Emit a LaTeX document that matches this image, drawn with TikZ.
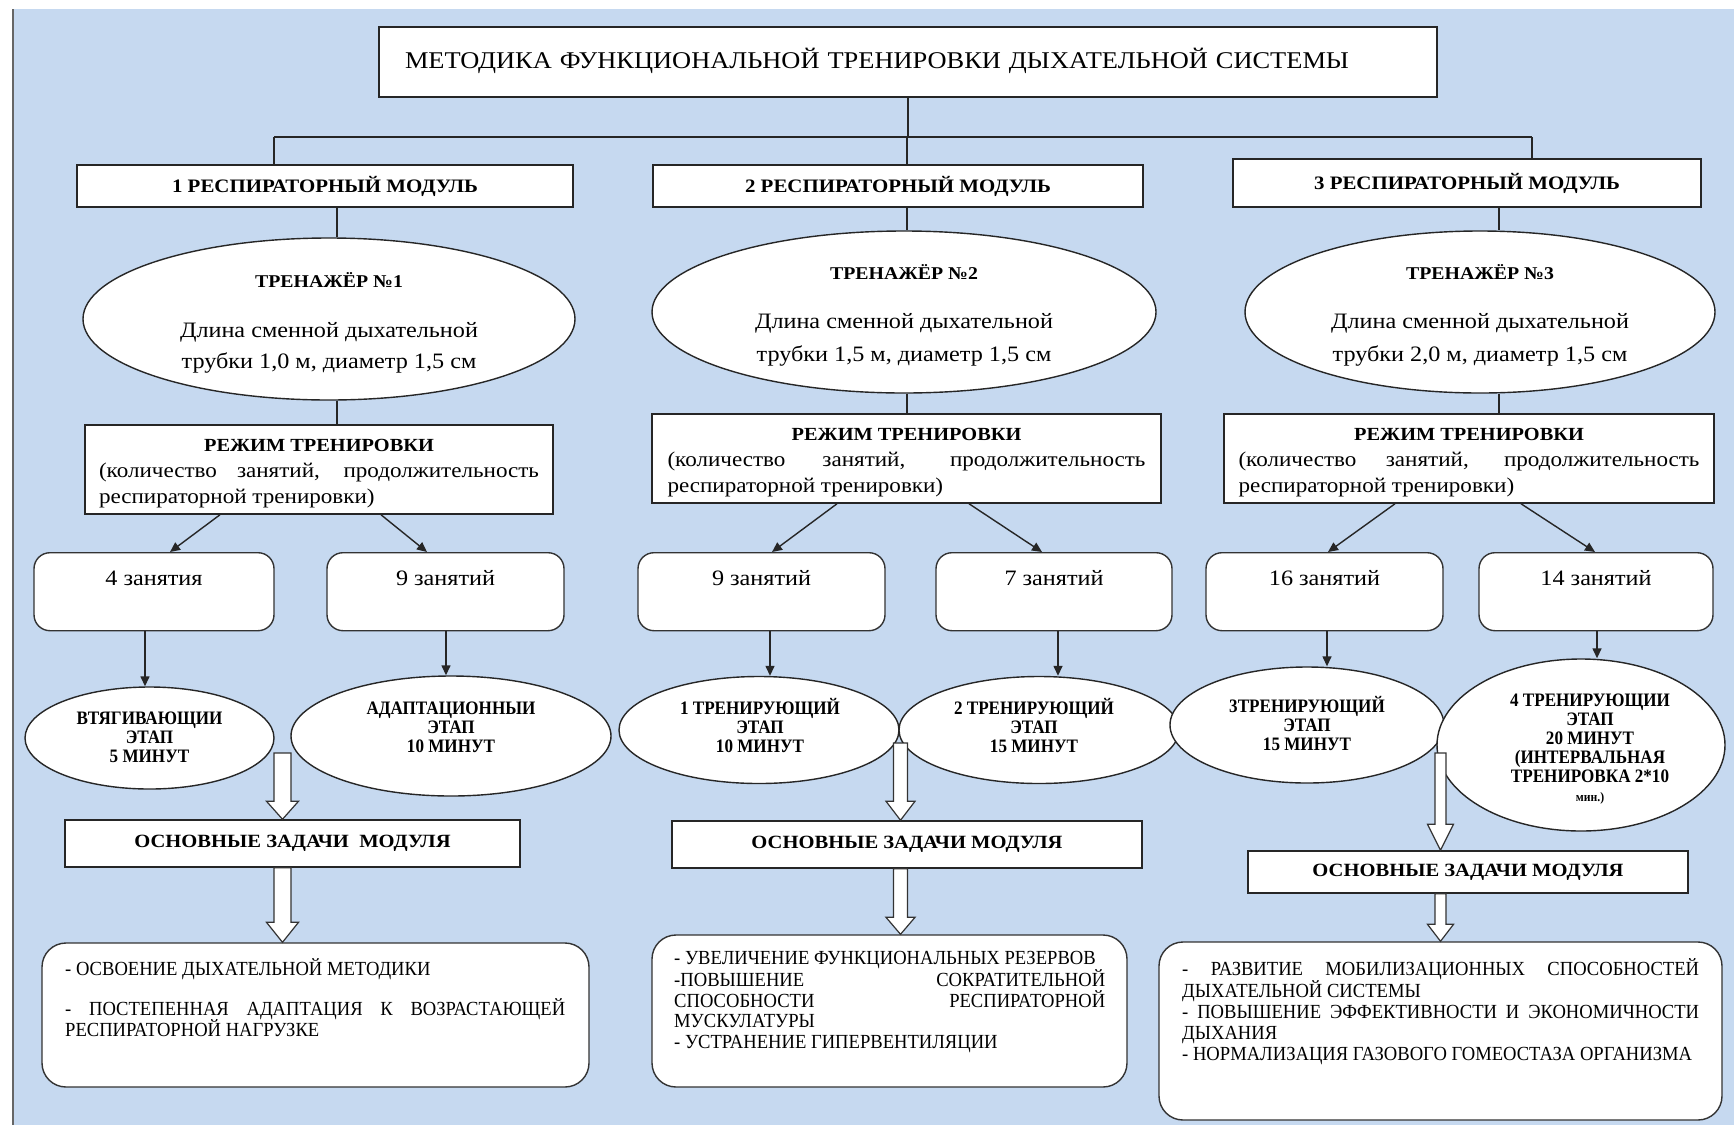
\documentclass[tikz,border=0pt]{standalone}
\usepackage{fontspec}
\setmainfont[FakeStretch=1.1]{Liberation Serif}
\newfontfamily\condfont[FakeStretch=0.9]{Liberation Serif}
\newfontfamily\listfont[FakeStretch=0.93]{Liberation Serif}
\usetikzlibrary{shapes.geometric,arrows.meta,calc}
\definecolor{bgblue}{RGB}{198,217,240}
\newcommand{\setfs}[2]{\fontsize{#1}{#2}\selectfont}
% hollow block arrow: #1 start (top), #2 tip, #3 shaft half width, #4 head half width, #5 head length
\newcommand{\blockarrow}[5]{%
  \draw[hollow] let \p1=(#1), \p2=(#2) in
    (\x2-#3,\y1) -- (\x2+#3,\y1) -- (\x2+#3,\y2+#5) -- (\x2+#4,\y2+#5) --
    (\x2,\y2) -- (\x2-#4,\y2+#5) -- (\x2-#3,\y2+#5) -- cycle;}
\begin{document}
\begin{tikzpicture}[x=1pt,y=-1pt,
  box/.style={draw=black!85, line width=1.5pt, fill=white, rectangle, inner sep=0pt},
  oval/.style={draw=black!85, line width=1.4pt, fill=white, ellipse, inner sep=0pt, align=center},
  rbox/.style={draw=black!80, line width=1.4pt, fill=white, rounded corners=16pt, inner sep=0pt},
  bigrbox/.style={draw=black!80, line width=1.4pt, fill=white, rounded corners=24pt, inner sep=0pt},
  conn/.style={draw=black!85, line width=1.4pt},
  arr/.style={conn, -{Triangle[length=10pt,width=9pt]}},
  hollow/.style={draw=black!80, line width=1.2pt, fill=white, line join=miter},
  modfont/.style={font=\bfseries\setfs{19}{21}},
  stagetxt/.style={inner sep=0pt, align=center, font=\condfont\bfseries\setfs{19}{19}},
  txt/.style={inner sep=0pt, align=left, anchor=north west, font=\listfont\setfs{20}{21.5}}
]
\useasboundingbox (0,0) rectangle (1734,1125);
\fill[white] (0,0) rectangle (1734,1125);
\fill[bgblue] (14,9) rectangle (1734,1125);
\draw[line width=2pt, black!60] (13,9) -- (13,1125);

% title
\node[box, minimum width=1058pt, minimum height=70pt, text width=1006pt, align=left, text depth=8pt,
      font=\setfs{24}{28}] (title) at (908,62) {МЕТОДИКА ФУНКЦИОНАЛЬНОЙ ТРЕНИРОВКИ ДЫХАТЕЛЬНОЙ СИСТЕМЫ};

% modules
\node[box, modfont, minimum width=496pt, minimum height=42pt] (m1) at (325,186) {1 РЕСПИРАТОРНЫЙ МОДУЛЬ};
\node[box, modfont, minimum width=490pt, minimum height=42pt] (m2) at (898,186) {2 РЕСПИРАТОРНЫЙ МОДУЛЬ};
\node[box, modfont, minimum width=468pt, minimum height=48pt] (m3) at (1467,183) {3 РЕСПИРАТОРНЫЙ МОДУЛЬ};

% trainers
\node[oval, minimum width=492pt, minimum height=162pt, font=\setfs{22}{31}] (t1) at (329,319)
  {\textbf{\setfs{18}{20}\rule{0pt}{22pt}ТРЕНАЖЁР №1}\\[19pt] Длина сменной дыхательной\\трубки 1,0 м, диаметр 1,5 см};
\node[oval, minimum width=504pt, minimum height=162pt, font=\setfs{22}{33}] (t2) at (904,312)
  {\textbf{\setfs{18}{20}\rule{0pt}{22pt}ТРЕНАЖЁР №2}\\[16pt] Длина сменной дыхательной\\трубки 1,5 м, диаметр 1,5 см};
\node[oval, minimum width=470pt, minimum height=162pt, font=\setfs{22}{33}] (t3) at (1480,312)
  {\textbf{\setfs{18}{20}\rule{0pt}{22pt}ТРЕНАЖЁР №3}\\[16pt] Длина сменной дыхательной\\трубки 2,0 м, диаметр 1,5 см};

% regimes
\tikzset{regime/.style={box, minimum height=89pt, align=center, font=\setfs{21}{26}}}
\node[regime, minimum width=468pt] (r1) at (319,469.5)
  {\textbf{\setfs{18.5}{26}\rule{0pt}{20.5pt}РЕЖИМ ТРЕНИРОВКИ}\\\makebox[440pt][s]{(количество занятий, продолжительность}\\\makebox[440pt][l]{респираторной тренировки)}};
\node[regime, minimum width=509pt] (r2) at (906.5,458.5)
  {\textbf{\setfs{18.5}{26}\rule{0pt}{19.5pt}РЕЖИМ ТРЕНИРОВКИ}\\\makebox[478pt][s]{(количество занятий, продолжительность}\\\makebox[478pt][l]{респираторной тренировки)}};
\node[regime, minimum width=490pt] (r3) at (1469,458.5)
  {\textbf{\setfs{18.5}{26}\rule{0pt}{19.5pt}РЕЖИМ ТРЕНИРОВКИ}\\\makebox[461pt][s]{(количество занятий, продолжительность}\\\makebox[461pt][l]{респираторной тренировки)}};

% sessions
\tikzset{sess/.style={rbox, text height=33pt, text depth=45pt, anchor=north, font=\setfs{22}{24}}}
\node[sess, minimum width=240pt] (b1) at (154,552) {4 занятия};
\node[sess, minimum width=237pt] (b2) at (445.5,552) {9 занятий};
\node[sess, minimum width=247pt] (b3) at (761.5,552) {9 занятий};
\node[sess, minimum width=236pt] (b4) at (1054,552) {7 занятий};
\node[sess, minimum width=237pt] (b5) at (1324.5,552) {16 занятий};
\node[sess, minimum width=234pt] (b6) at (1596,552) {14 занятий};

% stages
\node[oval, minimum width=249pt, minimum height=102pt] (e1) at (149.5,738) {};
\node[oval, minimum width=320pt, minimum height=120pt] (e2) at (451,736) {};
\node[oval, minimum width=280pt, minimum height=107pt] (e3) at (759,730) {};
\node[oval, minimum width=280pt, minimum height=107pt] (e4) at (1039,730) {};
\node[oval, minimum width=274pt, minimum height=116pt] (e5) at (1307,725) {};
\node[oval, minimum width=288pt, minimum height=172pt] (e6) at (1581,745) {};
\node[stagetxt] (e1t) at (149.5,737) {ВТЯГИВАЮЩИИ\\ЭТАП\\5 МИНУТ};
\node[stagetxt] (e2t) at (451,727) {АДАПТАЦИОННЫИ\\ЭТАП\\10 МИНУТ};
\node[stagetxt] (e3t) at (760,725) {1 ТРЕНИРУЮЩИЙ\\ЭТАП\\10 МИНУТ};
\node[stagetxt] (e4t) at (1034,725) {2 ТРЕНИРУЮЩИЙ\\ЭТАП\\15 МИНУТ};
\node[stagetxt] (e5t) at (1307,723) {3ТРЕНИРУЮЩИЙ\\ЭТАП\\15 МИНУТ};
\node[stagetxt] (e6t) at (1590,749)
  {4 ТРЕНИРУЮЩИИ\\ЭТАП\\20 МИНУТ\\(ИНТЕРВАЛЬНАЯ\\ТРЕНИРОВКА 2*10\\{\setfs{13}{19}мин.)}};

% main tasks
\tikzset{task/.style={box, font=\bfseries\setfs{18.7}{22}}}
\node[task, minimum width=455pt, minimum height=47pt] (o1) at (292.5,843.5) {ОСНОВНЫЕ ЗАДАЧИ \ МОДУЛЯ};
\node[task, minimum width=470pt, minimum height=47pt] (o2) at (907,844.5) {ОСНОВНЫЕ ЗАДАЧИ МОДУЛЯ};
\node[task, minimum width=440pt, minimum height=42pt] (o3) at (1468,872) {ОСНОВНЫЕ ЗАДАЧИ МОДУЛЯ};

% task lists
\node[bigrbox, minimum width=547pt, minimum height=144pt] (d1) at (315.5,1015) {};
\node[bigrbox, minimum width=475pt, minimum height=152pt] (d2) at (889.5,1011) {};
\node[bigrbox, minimum width=563pt, minimum height=178pt] (d3) at (1440.5,1031) {};

\node[txt] (d1t) at (65,958) {- ОСВОЕНИЕ ДЫХАТЕЛЬНОЙ МЕТОДИКИ\\[18.5pt]
  \makebox[500pt][s]{- ПОСТЕПЕННАЯ АДАПТАЦИЯ К ВОЗРАСТАЮЩЕЙ}\\
  РЕСПИРАТОРНОЙ НАГРУЗКЕ};
\node[txt, font=\listfont\setfs{20}{20.5}] (d2t) at (674,951) {\makebox[431pt][l]{- УВЕЛИЧЕНИЕ ФУНКЦИОНАЛЬНЫХ РЕЗЕРВОВ}\\
  \makebox[431pt][s]{-ПОВЫШЕНИЕ СОКРАТИТЕЛЬНОЙ}\\
  \makebox[431pt][s]{СПОСОБНОСТИ РЕСПИРАТОРНОЙ}\\
  МУСКУЛАТУРЫ\\
  - УСТРАНЕНИЕ ГИПЕРВЕНТИЛЯЦИИ};
\node[txt, font=\listfont\setfs{20}{21}] (d3t) at (1182,958) {\makebox[517pt][s]{- РАЗВИТИЕ МОБИЛИЗАЦИОННЫХ СПОСОБНОСТЕЙ}\\
  ДЫХАТЕЛЬНОЙ СИСТЕМЫ\\
  \makebox[517pt][s]{- ПОВЫШЕНИЕ ЭФФЕКТИВНОСТИ И ЭКОНОМИЧНОСТИ}\\
  ДЫХАНИЯ\\
  - НОРМАЛИЗАЦИЯ ГАЗОВОГО ГОМЕОСТАЗА ОРГАНИЗМА};

% --- connectors ---
\coordinate (busL) at (274,137);
\coordinate (busM) at (907,137);
\coordinate (busR) at (1532,137);
\draw[conn] (title.south) -- (title.south |- busM);
\draw[conn] (busL) -- (busR);
\draw[conn] (busL) -- (busL |- m1.north);
\draw[conn] (busM) -- (busM |- m2.north);
\draw[conn] (busR) -- (busR |- m3.north);

\draw[conn] ([xshift=12pt]m1.south) -- ([xshift=12pt]m1.south |- t1.north);
\draw[conn] ([xshift=9pt]m2.south) -- ([xshift=9pt]m2.south |- t2.north);
\draw[conn] ([xshift=32pt]m3.south) -- ([xshift=32pt]m3.south |- t3.north);

\draw[conn] ([xshift=8pt]t1.south) -- ([xshift=8pt]t1.south |- r1.north);
\draw[conn] ([xshift=3pt]t2.south) -- ([xshift=3pt]t2.south |- r2.north);
\draw[conn] ([xshift=19pt]t3.south) -- ([xshift=19pt]t3.south |- r3.north);

\draw[arr] ([xshift=-99pt]r1.south) -- ([xshift=16pt]b1.north);
\draw[arr] ([xshift=62pt]r1.south) -- ([xshift=-18.5pt]b2.north);
\draw[arr] ([xshift=-69.5pt]r2.south) -- ([xshift=10.5pt]b3.north);
\draw[arr] ([xshift=62.5pt]r2.south) -- ([xshift=-12pt]b4.north);
\draw[arr] ([xshift=-74pt]r3.south) -- ([xshift=3.5pt]b5.north);
\draw[arr] ([xshift=52pt]r3.south) -- ([xshift=-1pt]b6.north);

\draw[arr] ([xshift=-9pt]b1.south) -- ([xshift=-4.5pt]e1.north);
\draw[arr] ([xshift=0.5pt]b2.south) -- ([xshift=-5pt]e2.north);
\draw[arr] ([xshift=8.5pt]b3.south) -- ([xshift=11pt]e3.north);
\draw[arr] ([xshift=4pt]b4.south) -- ([xshift=19pt]e4.north);
\draw[arr] ([xshift=2.5pt]b5.south) -- ([xshift=20pt]e5.north);
\draw[arr] ([xshift=1pt]b6.south) -- ([xshift=16pt]e6.north);

% hollow arrows
\coordinate (a1s) at (282.5,753);
\coordinate (a3s) at (900.5,743);
\coordinate (a5s) at (1440.5,753);
\blockarrow{a1s}{[xshift=-10pt]o1.north}{8.5pt}{16pt}{18pt}
\blockarrow{[xshift=-10pt]o1.south}{[xshift=-33pt]d1.north}{8.5pt}{16pt}{20pt}
\blockarrow{a3s}{[xshift=-6.5pt]o2.north}{7pt}{14.5pt}{19pt}
\blockarrow{[xshift=-6.5pt]o2.south}{[xshift=11pt]d2.north}{7pt}{14.5pt}{17pt}
\blockarrow{a5s}{[xshift=-27.5pt]o3.north}{5.5pt}{13pt}{26pt}
\blockarrow{[xshift=-27.5pt]o3.south}{d3.north}{5.5pt}{13pt}{17pt}
\end{tikzpicture}
\end{document}
